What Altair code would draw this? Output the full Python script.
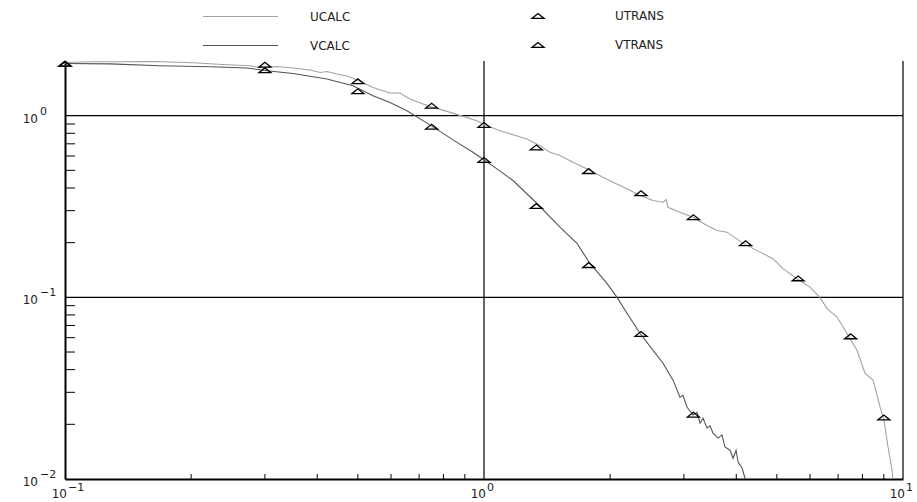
import altair as alt
import pandas as pd

# plot area size in pixels
W, H = 838, 418
FONT = "DejaVu Sans"

# ---- computed curves ----
u_calc_x = [0.1, 0.1166, 0.1353, 0.1622, 0.2021, 0.2435, 0.2764, 0.292, 0.3206, 0.350,
            0.3844, 0.4062, 0.4219, 0.4458, 0.4735, 0.5058, 0.5433, 0.5964, 0.630, 0.6657,
            0.7152, 0.7554, 0.816, 0.891, 0.962, 1.017, 1.092, 1.173, 1.266, 1.36,
            1.437, 1.518, 1.631, 1.762, 1.923, 2.032, 2.194, 2.357, 2.532, 2.675,
            2.72, 2.749, 2.936, 3.154, 3.406, 3.597, 3.802, 4.15, 4.557, 4.894,
            5.17, 5.585, 5.998, 6.338, 6.587, 6.959, 7.352, 7.767, 8.118, 8.483,
            8.812, 9.008, 9.209, 9.413, 9.47]
u_calc_y = [1.963, 1.98, 1.98, 1.988, 1.955, 1.907, 1.883, 1.843, 1.866, 1.829,
            1.783, 1.729, 1.751, 1.695, 1.648, 1.547, 1.431, 1.333, 1.333, 1.235,
            1.16, 1.111, 1.056, 0.991, 0.939, 0.881, 0.827, 0.786, 0.745, 0.684,
            0.629, 0.603, 0.554, 0.5095, 0.458, 0.430, 0.396, 0.3634, 0.3411, 0.334,
            0.3455, 0.3133, 0.2942, 0.2762, 0.2486, 0.2334, 0.2285, 0.1988, 0.1774, 0.1632,
            0.1438, 0.1267, 0.1139, 0.0996, 0.0867, 0.0779, 0.0632, 0.0511, 0.0381, 0.035,
            0.025, 0.0211, 0.01505, 0.0112, 0.0098]

v_calc_x = [0.1, 0.128, 0.1685, 0.2219, 0.2719, 0.3034, 0.350, 0.4219, 0.4867, 0.5433,
            0.5964, 0.655, 0.7152, 0.7852, 0.862, 0.941, 0.994, 1.074, 1.173, 1.338,
            1.518, 1.667, 1.79, 1.966, 2.077, 2.194, 2.357, 2.532, 2.675, 2.826,
            2.936, 2.985, 3.051, 3.154, 3.224, 3.278, 3.332, 3.406, 3.462, 3.52,
            3.618, 3.698, 3.76, 3.866, 3.93, 3.996, 4.04, 4.13, 4.197, 4.24]
v_calc_y = [1.939, 1.929, 1.883, 1.859, 1.829, 1.767, 1.708, 1.591, 1.462, 1.288,
            1.183, 1.065, 0.939, 0.820, 0.713, 0.629, 0.577, 0.5095, 0.4395, 0.3285,
            0.2433, 0.198, 0.1537, 0.1194, 0.1, 0.0817, 0.0634, 0.0511, 0.0434, 0.035,
            0.0282, 0.0289, 0.0249, 0.0225, 0.0233, 0.0203, 0.0216, 0.0191, 0.0196, 0.0179,
            0.0168, 0.0175, 0.015, 0.0144, 0.013, 0.0144, 0.0124, 0.0115, 0.0101, 0.0098]

# ---- transient markers ----
u_trans_x = [0.1, 0.3, 0.5, 0.75, 1.0, 1.333, 1.778, 2.37, 3.16, 4.21, 5.62, 7.5, 9.0]
u_trans_y = [1.931, 1.907, 1.547, 1.135, 0.889, 0.669, 0.4955, 0.3742, 0.2762, 0.1985,
             0.1272, 0.061, 0.0218]
v_trans_x = [0.1, 0.3, 0.5, 0.75, 1.0, 1.333, 1.778, 2.37, 3.16]
v_trans_y = [1.931, 1.778, 1.363, 0.87, 0.571, 0.318, 0.1505, 0.0629, 0.0226]

# ---- frame, grid and tick positions ----
grid_x = [1, 10]
grid_y = [1, 0.1]
minor_x = [0.2, 0.3, 0.4, 0.5, 0.6, 0.7, 0.8, 0.9, 2, 3, 4, 5, 6, 7, 8, 9]
minor_y = [0.02, 0.03, 0.04, 0.05, 0.06, 0.07, 0.08, 0.09,
           0.2, 0.3, 0.4, 0.5, 0.6, 0.7, 0.8, 0.9]

# decade labels: "10" with a raised exponent
x_label_at = [0.1, 1, 10]
x_label_exp = ["\u22121", "0", "1"]
y_label_at = [1, 0.1, 0.01]
y_label_exp = ["0", "\u22121", "\u22122"]

curves = pd.concat([
    pd.DataFrame({"x": u_calc_x, "y": u_calc_y, "curve": "UCALC"}),
    pd.DataFrame({"x": v_calc_x, "y": v_calc_y, "curve": "VCALC"}),
])
markers = pd.concat([
    pd.DataFrame({"x": u_trans_x, "y": u_trans_y, "marker": "UTRANS"}),
    pd.DataFrame({"x": v_trans_x, "y": v_trans_y, "marker": "VTRANS"}),
])

xs = alt.Scale(type="log", domain=[0.1, 10], nice=False)
ys = alt.Scale(type="log", domain=[0.01, 2.0], nice=False)
frame_axis = alt.Axis(labels=False, ticks=False, grid=False, domain=True,
                      domainColor="black", domainWidth=2)

LINE_KEY = "M-5,0H5"
TRIANGLE = "M-1,0.4L1,0.4L0,-0.4Z"

lines = alt.Chart(curves).mark_line(strokeWidth=1.1, clip=True).encode(
    x=alt.X("x:Q", scale=xs, axis=frame_axis, title=None),
    y=alt.Y("y:Q", scale=ys, axis=frame_axis, title=None),
    color=alt.Color(
        "curve:N",
        scale=alt.Scale(domain=["UCALC", "VCALC"], range=["#a2a2a2", "#555555"]),
        legend=alt.Legend(
            title=None, orient="none", legendX=167, legendY=-53, padding=0,
            symbolType=LINE_KEY, symbolSize=225, symbolStrokeWidth=1.2,
            labelOffset=61, rowPadding=14, labelFont=FONT, labelFontSize=12,
            labelColor="#222222",
        ),
    ),
)

points = alt.Chart(markers).mark_point(
    filled=False, stroke="black", strokeWidth=1.3, size=144, opacity=1
).encode(
    x=alt.X("x:Q", scale=xs, axis=frame_axis, title=None),
    y=alt.Y("y:Q", scale=ys, axis=frame_axis, title=None),
    shape=alt.Shape(
        "marker:N",
        scale=alt.Scale(domain=["UTRANS", "VTRANS"], range=[TRIANGLE, TRIANGLE]),
        legend=alt.Legend(
            title=None, orient="none", legendX=466, legendY=-52, padding=0,
            symbolSize=144, symbolStrokeColor="black", symbolStrokeWidth=1.3,
            symbolFillColor="transparent",
            labelOffset=70, rowPadding=16, labelFont=FONT, labelFontSize=12,
            labelColor="#222222",
        ),
    ),
)

vgrid = alt.Chart(pd.DataFrame({"x": grid_x})).mark_rule(
    color="black", strokeWidth=1.2
).encode(x=alt.X("x:Q", scale=xs, axis=frame_axis, title=None))

hgrid = alt.Chart(pd.DataFrame({"y": grid_y})).mark_rule(
    color="black", strokeWidth=1.2
).encode(y=alt.Y("y:Q", scale=ys, axis=frame_axis, title=None))

xticks = alt.Chart(pd.DataFrame({"x": minor_x})).mark_rule(
    color="black", strokeWidth=1
).encode(x=alt.X("x:Q", scale=xs, axis=frame_axis, title=None),
         y=alt.value(H), y2=alt.value(H - 5))

yticks = alt.Chart(pd.DataFrame({"y": minor_y})).mark_rule(
    color="black", strokeWidth=1
).encode(y=alt.Y("y:Q", scale=ys, axis=frame_axis, title=None),
         x=alt.value(0), x2=alt.value(10))

xlab = pd.DataFrame({"x": x_label_at, "base": "10", "exp": x_label_exp})
ylab = pd.DataFrame({"y": y_label_at, "base": "10", "exp": y_label_exp})

x_base = alt.Chart(xlab).mark_text(
    align="right", baseline="alphabetic", font=FONT, fontSize=12, color="#222222", dx=2
).encode(x=alt.X("x:Q", scale=xs, axis=frame_axis, title=None),
         y=alt.value(H + 19), text="base:N")
x_exp = alt.Chart(xlab).mark_text(
    align="left", baseline="alphabetic", font=FONT, fontSize=11, color="#222222", dx=3
).encode(x=alt.X("x:Q", scale=xs, axis=frame_axis, title=None),
         y=alt.value(H + 12), text="exp:N")

y_base = alt.Chart(ylab).mark_text(
    align="right", baseline="middle", font=FONT, fontSize=12, color="#222222", dy=3
).encode(y=alt.Y("y:Q", scale=ys, axis=frame_axis, title=None),
         x=alt.value(-27), text="base:N")
y_exp = alt.Chart(ylab).mark_text(
    align="left", baseline="middle", font=FONT, fontSize=11, color="#222222", dy=-4
).encode(y=alt.Y("y:Q", scale=ys, axis=frame_axis, title=None),
         x=alt.value(-25), text="exp:N")

chart = alt.layer(
    hgrid, vgrid, xticks, yticks, lines, points, x_base, x_exp, y_base, y_exp
).properties(
    width=W, height=H,
    autosize=alt.AutoSizeParams(type="none"),
    padding={"left": 65, "top": 61, "right": 14, "bottom": 23},
).configure_view(stroke=None).resolve_scale(color="independent", shape="independent")

chart.save("out.html", embed_options={"renderer": "svg", "actions": False})
